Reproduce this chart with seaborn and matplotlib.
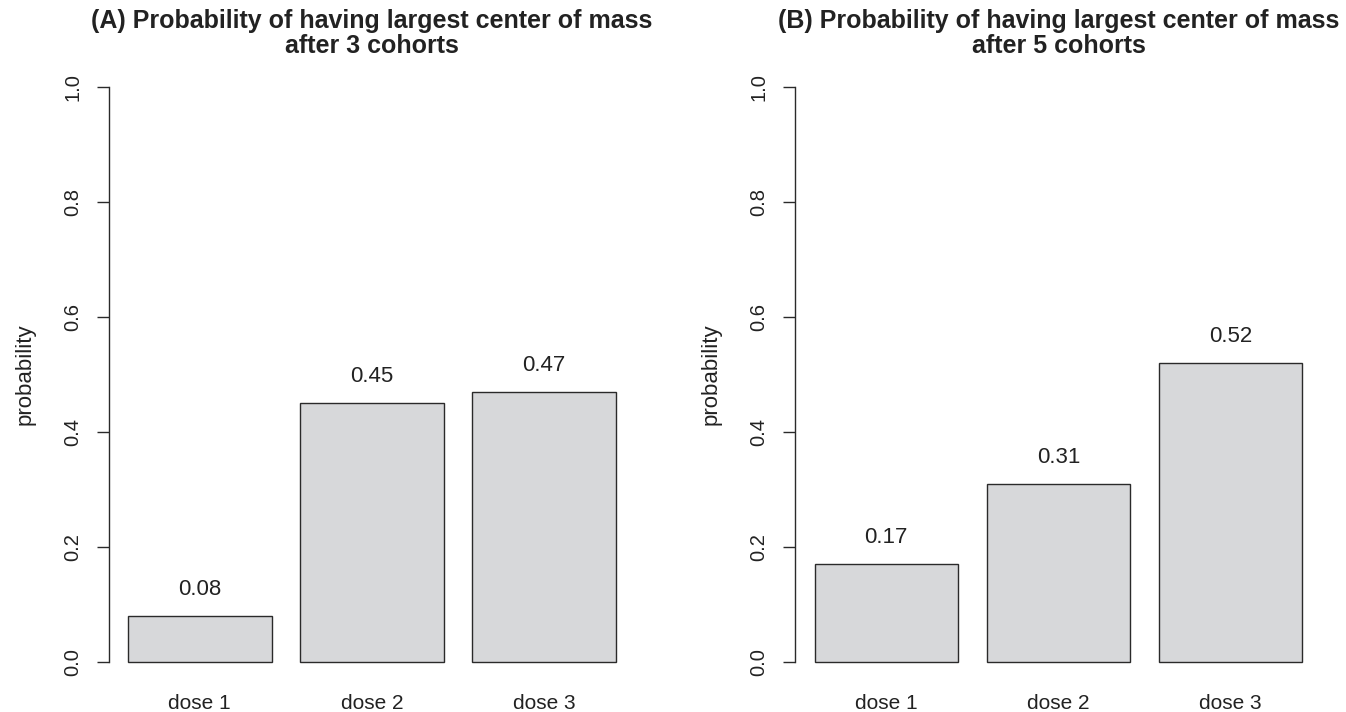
import matplotlib
matplotlib.use("Agg")
import matplotlib.pyplot as plt
import seaborn as sns
import pandas as pd

doses = ["dose 1", "dose 2", "dose 3"]
prob_a = [0.08, 0.45, 0.47]
prob_b = [0.17, 0.31, 0.52]
titles = ["(A) Probability of having largest center of mass\nafter 3 cohorts",
          "(B) Probability of having largest center of mass\nafter 5 cohorts"]
yticks = [0.0, 0.2, 0.4, 0.6, 0.8, 1.0]

sns.set_style("white")
plt.rcParams['font.family'] = ['Liberation Sans', 'DejaVu Sans']

fig = plt.figure(figsize=(13.46, 7.12), dpi=100)
W, H = 1346, 712
ax_a = fig.add_axes([108.5 / W, 27 / H, 527 / W, 621 / H])
ax_b = fig.add_axes([795 / W, 27 / H, 527 / W, 621 / H])

bw = 1 / 1.2
ext = (2 + bw) * 0.04
for ax, vals, title in [(ax_a, prob_a, titles[0]), (ax_b, prob_b, titles[1])]:
    df = pd.DataFrame({"dose": doses, "probability": vals})
    sns.barplot(data=df, x="dose", y="probability", ax=ax, color="#d7d8da",
                saturation=1, width=bw, edgecolor="#2a2a2a", linewidth=1.0)
    for i, v in enumerate(vals):
        ax.text(i, v + 0.046, f"{v:.2f}", ha="center", va="center", fontsize=16, color="#222222")
    ax.set_xlim(-bw / 2 - ext, 2 + bw / 2 + ext)
    ax.set_ylim(-0.04, 1.04)
    ax.set_yticks(yticks)
    ax.set_yticklabels([f"{t:.1f}" for t in yticks], rotation=90, va="center", fontsize=14.5)
    ax.tick_params(axis="y", length=9, width=1, pad=10, color="#2a2a2a", left=True, labelcolor="#222222")
    ax.tick_params(axis="x", length=0, pad=6.5, labelsize=15, labelcolor="#222222")
    for s in ["top", "right", "bottom"]:
        ax.spines[s].set_visible(False)
    ax.spines["left"].set_bounds(0, 1)
    ax.spines["left"].set_color("#2a2a2a")
    ax.spines["left"].set_linewidth(1)
    ax.set_xlabel("")
    ax.set_ylabel("probability", fontsize=16, labelpad=20, color="#222222")
    ax.set_title(title, fontsize=18, fontweight="bold", pad=8, color="#222222", linespacing=1.05)

fig.savefig("out.png", dpi=100)
